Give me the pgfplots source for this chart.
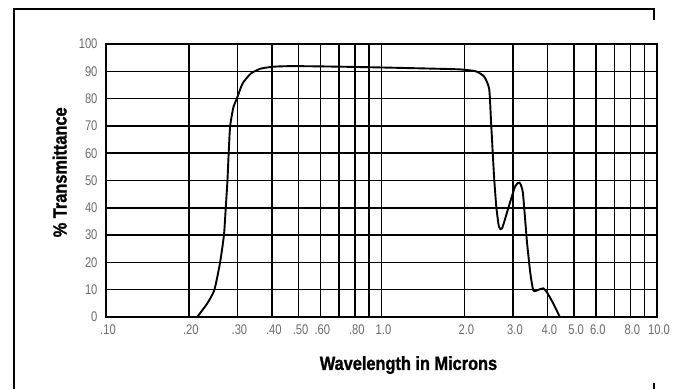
\documentclass[border=0pt]{standalone}
\usepackage{pgfplots}
\pgfplotsset{compat=1.18}
\usepackage{fontspec}
\setmainfont{Liberation Sans}
\newfontfamily\narrowfont[FakeStretch=0.8]{Liberation Sans}
\newfontfamily\labelfont[FakeStretch=0.86,FakeBold=1.2]{Liberation Sans Bold}
\begin{document}
\begin{tikzpicture}
\path[use as bounding box] (0pt,0pt) rectangle (689pt,389pt);
\draw[line width=1.6pt] (14pt,0pt) -- (14pt,380pt) -- (654pt,380pt) -- (654pt,369pt);
\draw[line width=1.4pt] (654pt,0pt) -- (654pt,6pt);
\begin{axis}[
  at={(106pt,72pt)}, anchor=south west,
  width=551pt, height=273pt, scale only axis,
  xmode=log, xmin=0.1, xmax=10, ymin=0, ymax=100,
  xtick={0.1,0.2,0.3,0.4,0.5,0.6,0.7,0.8,0.9,1,2,3,4,5,6,7,8,9,10},
  xticklabels={.10,.20,.30,.40,.50,.60,,.80,,1.0,2.0,3.0,4.0,5.0,6.0,,8.0,,10.0},
  ytick={0,10,20,30,40,50,60,70,80,90,100},
  yticklabels={0,10,20,30,40,50,60,70,80,90,100},
  grid=major,
  major grid style={black, line width=1.5pt},
  axis line style={line width=1.5pt},
  major tick length=0pt,
  tick style={draw=none},
  tick label style={font=\narrowfont\fontsize{14}{14}\selectfont, text=black!58},
  xticklabel style={yshift=-4pt, xshift=2pt},
  yticklabel style={xshift=-5pt},
  xlabel={Wavelength in Microns},
  ylabel={\% Transmittance},
  xlabel style={at={(axis description cs:0.549,-0.176)}, anchor=center, font=\labelfont\fontsize{19}{19}\selectfont},
  ylabel style={at={(axis description cs:-0.084,0.530)}, anchor=center, font=\labelfont\fontsize{19}{19}\selectfont},
]
\addplot[black, line width=1.9pt, smooth, tension=0.35] coordinates {
(0.2143,0) (0.2332,5) (0.2475,10) (0.2595,20) (0.2680,30) (0.2721,40)
(0.2760,50) (0.2788,60) (0.2823,70) (0.2903,77) (0.2986,80) (0.3130,85.5)
(0.3357,89.2) (0.3651,91) (0.4085,91.7) (0.48,91.9) (0.7,91.7) (1.0,91.4)
(1.5,91.0) (1.92,90.7) (2.2,90) (2.36,88) (2.46,83.5) (2.50,71) (2.56,52)
(2.61,40.5) (2.67,33) (2.74,32.5) (2.9,40.6) (3.06,48) (3.17,49.2) (3.26,45.5)
(3.37,28) (3.47,16) (3.56,9.7) (3.72,10) (3.87,10.5) (4.0,8.8) (4.2,5) (4.44,0)
};
\end{axis}
\end{tikzpicture}
\end{document}
